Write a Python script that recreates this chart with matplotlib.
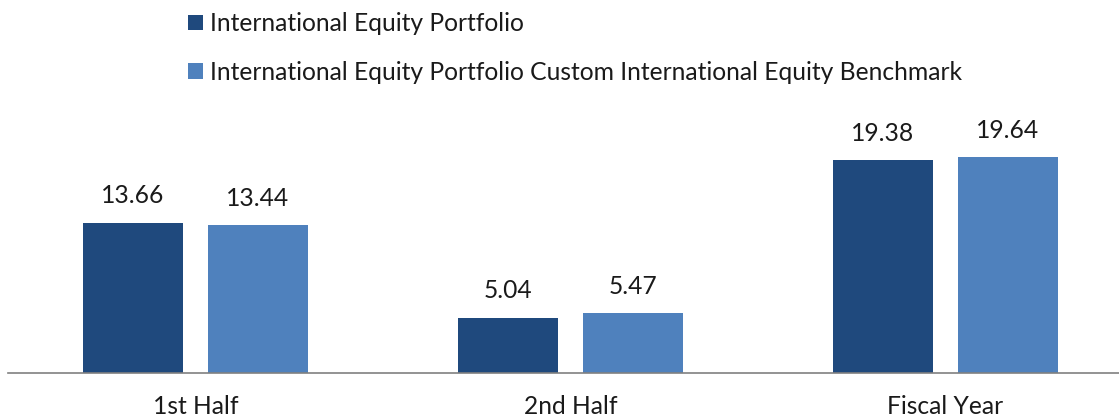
import matplotlib
matplotlib.use("Agg")
import matplotlib.pyplot as plt
import numpy as np

categories = ["1st Half", "2nd Half", "Fiscal Year"]
series_names = ["International Equity Portfolio",
                "International Equity Portfolio Custom International Equity Benchmark"]
portfolio = [13.66, 5.04, 19.38]
benchmark = [13.44, 5.47, 19.64]
colors = ["#1F497D", "#4F81BD"]

plt.rcParams['font.family'] = ['Lato', 'DejaVu Sans']
FS = 17.7

fig = plt.figure(figsize=(11.19, 4.2), dpi=100)
ax = fig.add_axes([8/1119, 47/420, 1125/1119, 220/420])

x = np.arange(len(categories))
w = 100/375
off = 62.5/375
for vals, c, o, name in zip([portfolio, benchmark], colors, [-off, off], series_names):
    bars = ax.bar(x + o, vals, width=w, color=c, label=name)
    for b, v in zip(bars, vals):
        ax.annotate(f"{v:.2f}", (b.get_x() + b.get_width()/2, v),
                    xytext=(0, 11), textcoords="offset points",
                    ha="center", va="bottom", fontsize=FS, color="#1a1a1a")

ax.set_xlim(-0.5, 2.5)
ax.set_ylim(0, 20)
ax.set_xticks(x)
ax.set_xticklabels(categories, fontsize=FS, color="#1a1a1a")
ax.tick_params(axis='x', length=0, pad=16)
ax.set_yticks([])
for s in ["top", "right", "left"]:
    ax.spines[s].set_visible(False)
ax.spines["bottom"].set_color("#808080")
ax.spines["bottom"].set_linewidth(1.2)

handles, labels = ax.get_legend_handles_labels()
fig.legend(handles, labels, loc="upper left", bbox_to_anchor=(166/1119, 1.0 + 10/420),
           frameon=False, fontsize=FS, handlelength=0.6, handleheight=0.6,
           handletextpad=0.3, labelspacing=1.05, labelcolor="#1a1a1a")

fig.savefig("out.png", dpi=100)
